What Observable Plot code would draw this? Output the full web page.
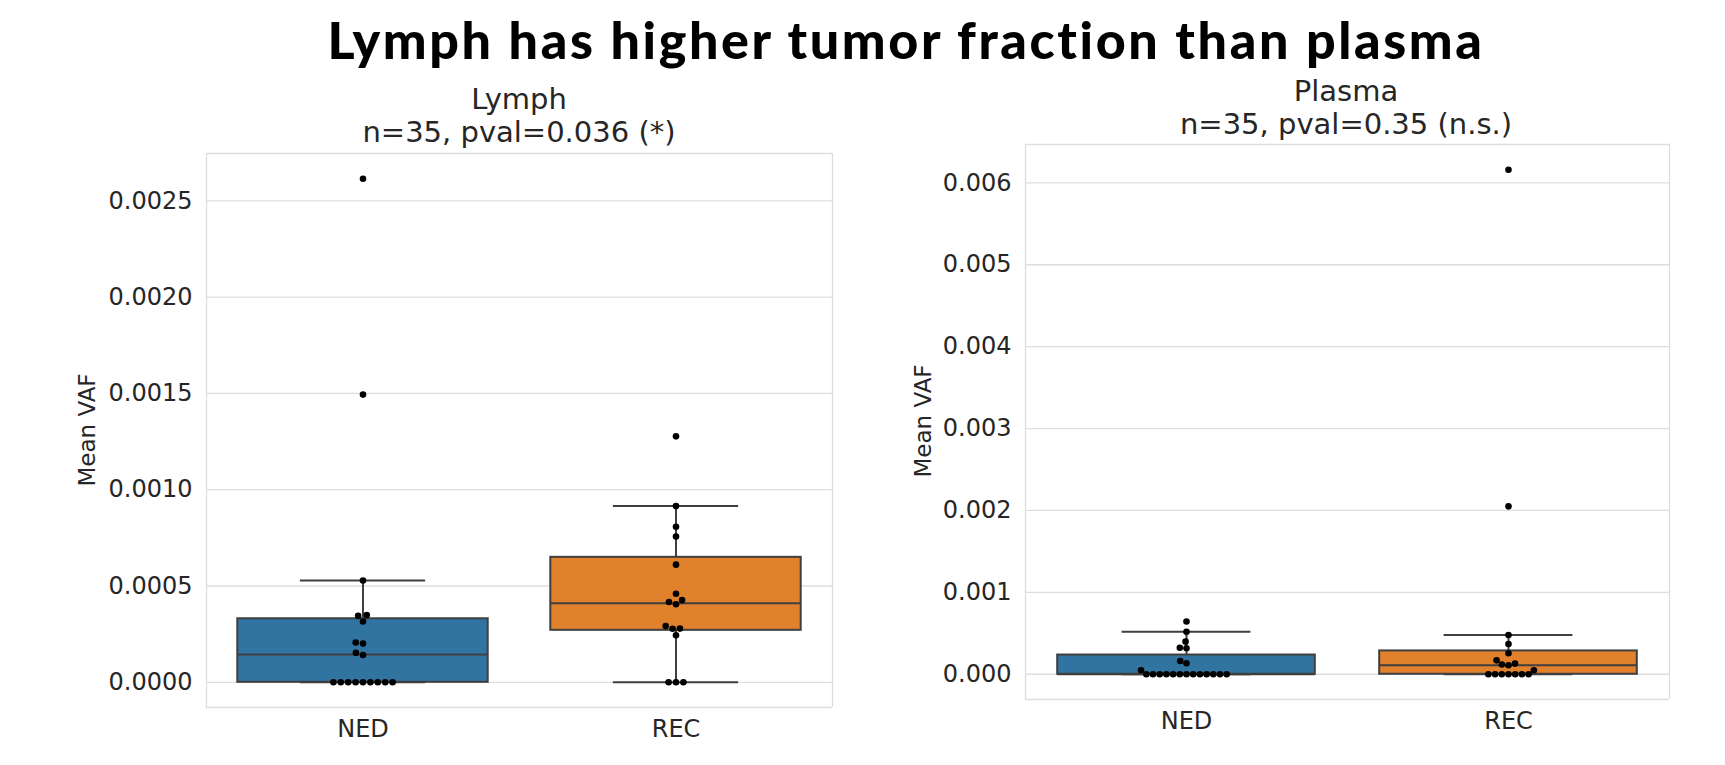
<!DOCTYPE html>
<html><head><meta charset="utf-8">
<script src="https://cdn.jsdelivr.net/npm/d3@7"></script>
<script src="https://cdn.jsdelivr.net/npm/@observablehq/plot@0.6"></script>
<style>
body{margin:0;background:#fff;}
#wrap{position:relative;width:1725px;height:765px;overflow:hidden;font-family:"DejaVu Sans";background:#fff;}
.t{position:absolute;white-space:nowrap;transform:translate(-50%,-50%);color:#262626;line-height:1;z-index:5;}
.main{position:absolute;white-space:nowrap;transform:translateX(-50%);font-family:Lato;font-weight:900;color:#000;line-height:1;z-index:5;letter-spacing:2.6px;}
.ylab{position:absolute;white-space:nowrap;transform:translate(-50%,-50%) rotate(-90deg);color:#262626;line-height:1;z-index:5;}
svg{position:absolute;top:0;}
</style></head><body><div id="wrap"></div>
<script>
// ---- data ----
const groups = ["NED", "REC"];
const groupColors = ["#3274a1", "#e1812c"];

const lymphNED = [0,0,0,0,0,0,0,0,0,0.000142,0.000153,0.000201,0.000207,0.000316,0.000345,0.000349,0.000529,0.001494,0.002615];
const lymphREC = [0,0,0,0.000244,0.000278,0.000279,0.000292,0.000405,0.000417,0.000427,0.00046,0.000611,0.000757,0.000808,0.000915,0.001277];
const plasmaNED = [0,0,0,0,0,0,0,0,0,0,0,0,0,0.00005,0.000134,0.000162,0.000317,0.000324,0.000398,0.00052,0.000645];
const plasmaREC = [0,0,0,0,0,0,0,0.00005,0.00011,0.00012,0.00013,0.00017,0.000256,0.00037,0.00048,0.00205,0.00616];

// box summaries per group [NED, REC]
const lymphQ1 = [0, 0.00027];
const lymphMedian = [0.000144, 0.00041];
const lymphQ3 = [0.00033, 0.000649];
const lymphWhiskLo = [0, 0];
const lymphWhiskHi = [0.000529, 0.000915];

const plasmaQ1 = [0, 0];
const plasmaMedian = [0, 0.00011];
const plasmaQ3 = [0.000235, 0.000285];
const plasmaWhiskLo = [0, 0];
const plasmaWhiskHi = [0.00052, 0.00048];

const lymphTicks = [0, 0.0005, 0.001, 0.0015, 0.002, 0.0025];
const plasmaTicks = [0, 0.001, 0.002, 0.003, 0.004, 0.005, 0.006];

const mainTitle = "Lymph has higher tumor fraction than plasma";
const lymphTitle = ["Lymph", "n=35, pval=0.036 (*)"];
const plasmaTitle = ["Plasma", "n=35, pval=0.35 (n.s.)"];
const yLabel = "Mean VAF";

// ---- build ----
function pts(a, b) {
  return [...a.map(v => ({g: groups[0], v})), ...b.map(v => ({g: groups[1], v}))];
}
function stats(q1, med, q3, lo, hi) {
  return groups.map((g, i) => ({g, q1: q1[i], med: med[i], q3: q3[i], lo: lo[i], hi: hi[i]}));
}

const xDom = [-0.5, 0.5];
const boxHalf = 0.4, capHalf = 0.2;
const edgeColor = "#3f3f3f";
const gridColor = "#dedede";

function panel(o) {
  const vals = o.points.map(d => d.v);
  const mn = d3.min(vals), mx = d3.max(vals), m = (mx - mn) * 0.05;
  const yDom = [mn - m, mx + m];
  const edges = [{g: groups[0], x: xDom[0]}, {g: groups[1], x: xDom[1]}];
  const svg = Plot.plot({
    width: o.width, height: o.height,
    marginLeft: o.ml, marginRight: o.mr, marginTop: o.mt, marginBottom: o.mb,
    style: {background: "transparent", fontFamily: "DejaVu Sans", fontSize: "24px", color: "#262626", overflow: "visible"},
    fx: {domain: groups, padding: 0, label: null, tickSize: 0, tickPadding: 12, axis: "bottom"},
    x: {domain: xDom, axis: null},
    y: {domain: yDom, ticks: o.ticks, tickFormat: d3.format(o.fmt), tickSize: 0, tickPadding: 14, label: null},
    color: {domain: groups, range: groupColors},
    marks: [
      Plot.ruleY(o.ticks, {stroke: gridColor, strokeWidth: 1.3}),
      Plot.ruleY(yDom, {stroke: gridColor, strokeWidth: 1.3}),
      Plot.ruleX(edges, {fx: "g", x: "x", stroke: gridColor, strokeWidth: 1.3}),
      Plot.rectY(o.stats, {fx: "g", x1: -boxHalf, x2: boxHalf, y1: "q1", y2: "q3", fill: "g", stroke: edgeColor, strokeWidth: 2}),
      Plot.ruleX(o.stats, {fx: "g", x: 0, y1: "q3", y2: "hi", stroke: edgeColor, strokeWidth: 2}),
      Plot.ruleX(o.stats, {fx: "g", x: 0, y1: "q1", y2: "lo", stroke: edgeColor, strokeWidth: 2}),
      Plot.ruleY(o.stats, {fx: "g", y: "hi", x1: -capHalf, x2: capHalf, stroke: edgeColor, strokeWidth: 2}),
      Plot.ruleY(o.stats, {fx: "g", y: "lo", x1: -capHalf, x2: capHalf, stroke: edgeColor, strokeWidth: 2}),
      Plot.ruleY(o.stats, {fx: "g", y: "med", x1: -boxHalf, x2: boxHalf, stroke: edgeColor, strokeWidth: 2}),
      Plot.dot(o.points, Plot.dodgeX({anchor: "middle", padding: o.pad}, {fx: "g", y: "v", r: 3.3, fill: "#000", stroke: "none"}))
    ]
  });
  svg.style.left = o.left + "px";
  return svg;
}

const wrap = document.getElementById("wrap");

wrap.appendChild(panel({
  points: pts(lymphNED, lymphREC),
  stats: stats(lymphQ1, lymphMedian, lymphQ3, lymphWhiskLo, lymphWhiskHi),
  ticks: lymphTicks, fmt: ".4f", pad: 0.8,
  left: 0, width: 862, height: 765, ml: 206, mr: 30, mt: 153, mb: 58
}));
wrap.appendChild(panel({
  points: pts(plasmaNED, plasmaREC),
  stats: stats(plasmaQ1, plasmaMedian, plasmaQ3, plasmaWhiskLo, plasmaWhiskHi),
  ticks: plasmaTicks, fmt: ".3f", pad: 0.1,
  left: 862, width: 863, height: 765, ml: 162, mr: 56, mt: 144, mb: 66
}));

function addText(cls, txt, x, y, size) {
  const d = document.createElement("div");
  d.className = cls; d.textContent = txt;
  d.style.left = x + "px"; d.style.top = y + "px"; d.style.fontSize = size + "px";
  wrap.appendChild(d);
}
addText("main", mainTitle, 906, 13, 52);
addText("t", lymphTitle[0], 519, 99, 29);
addText("t", lymphTitle[1], 519, 132, 29);
addText("t", plasmaTitle[0], 1346, 91, 29);
addText("t", plasmaTitle[1], 1346, 124, 29);
addText("ylab", yLabel, 87, 430, 23);
addText("ylab", yLabel, 923, 421, 23);
</script></body></html>
